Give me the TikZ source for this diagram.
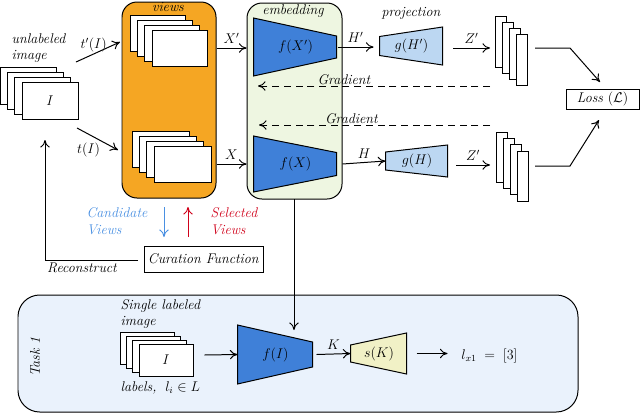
\documentclass[tikz,border=0pt]{standalone}
\usepackage{amsmath, amssymb}
\usetikzlibrary{arrows.meta, positioning}

\definecolor{viewsorange}{HTML}{F5A623}
\definecolor{embgreen}{HTML}{EEF6E1}
\definecolor{encblue}{HTML}{3F80D8}
\definecolor{projblue}{HTML}{BCD7F2}
\definecolor{clsyellow}{HTML}{F1F1C6}
\definecolor{taskblue}{HTML}{EAF2FC}
\definecolor{candblue}{HTML}{4A90E2}
\definecolor{selred}{HTML}{D0021B}

% trapezoid block: name, x, y, width, left height, right height, style, text
\newcommand{\trap}[8]{%
  \node[minimum width=#4*0.03cm, inner sep=0] (#1) at (#2,#3) {};
  \draw[#7] (#1.west) ++(0,-#5/2) -- ++(#4,#5/2-#6/2) -- ++(0,#6)
    -- ++(-#4,#5/2-#6/2) -- cycle;
  \node at (#1) {#8};
}
% stack of sheets: name, x, y (front centre), width, height, dx, dy, text
\newcommand{\imgstack}[8]{%
  \foreach \k in {3,2,1}
    \draw[sheet] (#2-\k*#6-#4/2, #3-\k*#7-#5/2) rectangle ++(#4,#5);
  \node[sheet, minimum width=#4*0.03cm, minimum height=#5*0.03cm] (#1) at (#2,#3) {#8};
}

\begin{document}
\begin{tikzpicture}[x=0.03cm, y=-0.03cm,
  line width=0.85pt,
  every node/.append style={font=\large},
  sheet/.style={draw=black, fill=white, inner sep=0},
  group/.style={draw=black, rounded corners=0.45cm, inner sep=0},
  arrow/.style={-{To[length=6.5pt, width=8pt]}},
  back/.style={dash pattern=on 6pt off 4pt, -{To[length=6.5pt, width=8pt]}},
  tag/.style={font=\large\itshape, inner sep=1pt}
]
\useasboundingbox (0,0) rectangle (640,413);

% task box
\node[group, fill=taskblue, rounded corners=0.65cm, minimum width=560*0.03cm,
  minimum height=117*0.03cm] (task) at (298,353.5) {};
\node[tag, rotate=90] at (35,357) {Task 1};

% groups
\node[group, fill=viewsorange, minimum width=94*0.03cm, minimum height=196*0.03cm]
  (views) at (169,100) {};
\node[tag] at (168,7) {views};
\node[group, fill=embgreen, minimum width=95*0.03cm, minimum height=196*0.03cm]
  (emb) at (294.5,101) {};
\node[tag] at (293,11) {embedding};
\node[tag] at (411,13) {projection};

% images
\imgstack{img}{50}{100.5}{56}{37}{7.3}{5}{$I$}
\node[tag, align=left, anchor=west] at (10,48) {unlabeled\\image};
\imgstack{v1}{179.5}{48}{55}{36}{7.3}{5}{}
\imgstack{v2}{182.5}{164}{57}{36}{7.3}{5}{}
\imgstack{z1}{521.5}{59.5}{11}{51}{6.7}{6}{}
\imgstack{z2}{522.5}{176}{11}{50}{6.7}{6.3}{}

% blocks
\trap{fx1}{295.5}{47}{83}{58}{22}{fill=encblue}{$f(X')$}
\trap{fx2}{295.5}{164}{83}{56}{23}{fill=encblue}{$f(X)$}
\trap{g1}{411.5}{46}{63}{19}{38}{fill=projblue}{$g(H')$}
\trap{g2}{417}{161}{62}{18}{32}{fill=projblue}{$g(H)$}
\node[draw, minimum width=73*0.03cm, minimum height=20*0.03cm, inner sep=1pt] (loss)
  at (602.5,99) {\textit{Loss} $(\mathcal{L})$};
\node[draw, minimum width=119*0.03cm, minimum height=26*0.03cm] (cur) at (203.5,259)
  {\textit{Curation Function}};

% task blocks
\imgstack{ti}{166}{360}{54}{32}{6.3}{4}{$I$}
\node[tag, align=left, anchor=north west] at (119,298) {Single labeled\\image};
\node[tag, anchor=west] at (119,388) {labels,\; $l_i \in L$};
\trap{fi}{275.5}{354.5}{75}{59}{25}{fill=encblue}{$f(I)$}
\trap{sk}{379}{353.5}{56}{17}{41}{fill=clsyellow}{$s(K)$}
\node[anchor=west] (out) at (457,356) {$l_{x1}\;=\;[3]$};

% free ends
\coordinate (ta) at (76,62);   \coordinate (tb) at (120,42);
\coordinate (tc) at (77,128);  \coordinate (td) at (118,150);
\coordinate (za) at (453,48);  \coordinate (zb) at (490,48);
\coordinate (zc) at (456,165); \coordinate (zd) at (490,165);
\coordinate (la) at (535,48);  \coordinate (lb) at (570,48);  \coordinate (lc) at (600,82);
\coordinate (ld) at (535,166); \coordinate (le) at (570,166); \coordinate (lf) at (599,120);
\coordinate (ga) at (490,86);  \coordinate (gb) at (258,86);
\coordinate (gc) at (490,125); \coordinate (gd) at (259,125);
\coordinate (ca) at (164,207); \coordinate (cb) at (164,237);
\coordinate (sa) at (188,237); \coordinate (sb) at (188,207);
\coordinate (ra) at (138,260); \coordinate (rb) at (45,260); \coordinate (rc) at (45,140);
\coordinate (ea) at (294,199); \coordinate (eb) at (294,330);

% connectors
\draw[arrow] (ta) -- node[tag, above, pos=0.4] {$t'(I)$} (tb);
\draw[arrow] (tc) -- node[tag, anchor=north east, pos=0.6] {$t(I)$} (td);
\draw[arrow] (views.east |- v1) -- node[above] {$X'$} (emb.west |- v1);
\draw[arrow] (views.east |- v2) -- node[above] {$X$} (emb.west |- v2);
\draw[arrow] (fx1.east) -- node[above] {$H'$} ++(36,0);
\draw[arrow] (fx2.east) ++(5,0) -- node[above] {$H$} (g2.west);
\draw[arrow] (za) -- node[above] {$Z'$} (zb);
\draw[arrow] (zc) -- node[above] {$Z'$} (zd);
\draw[arrow] (la) -- (lb) -- (lc);
\draw[arrow] (ld) -- (le) -- (lf);
\draw[back] (ga) -- node[tag, above, pos=0.63] {Gradient} (gb);
\draw[back] (gc) -- node[tag, above, pos=0.6] {Gradient} (gd);
\draw[arrow, candblue] (ca) -- (cb);
\draw[arrow, selred] (sa) -- (sb);
\node[tag, text=candblue, align=left] at (117,221) {Candidate\\Views};
\node[tag, text=selred, align=left] at (234,221) {Selected\\Views};
\draw[arrow] (ra) -- (rb) -- (rc);
\node[tag] at (82,268) {Reconstruct};
\draw[arrow] (ea) -- (eb);
\draw[arrow] (ti.east) ++(11,-5) -- (fi.west);
\draw[arrow] (fi.east) ++(3,0) -- node[above] {$K$} (sk.west);
\draw[arrow] (sk.east) ++(9,0) -- ++(31,0);
\end{tikzpicture}
\end{document}
